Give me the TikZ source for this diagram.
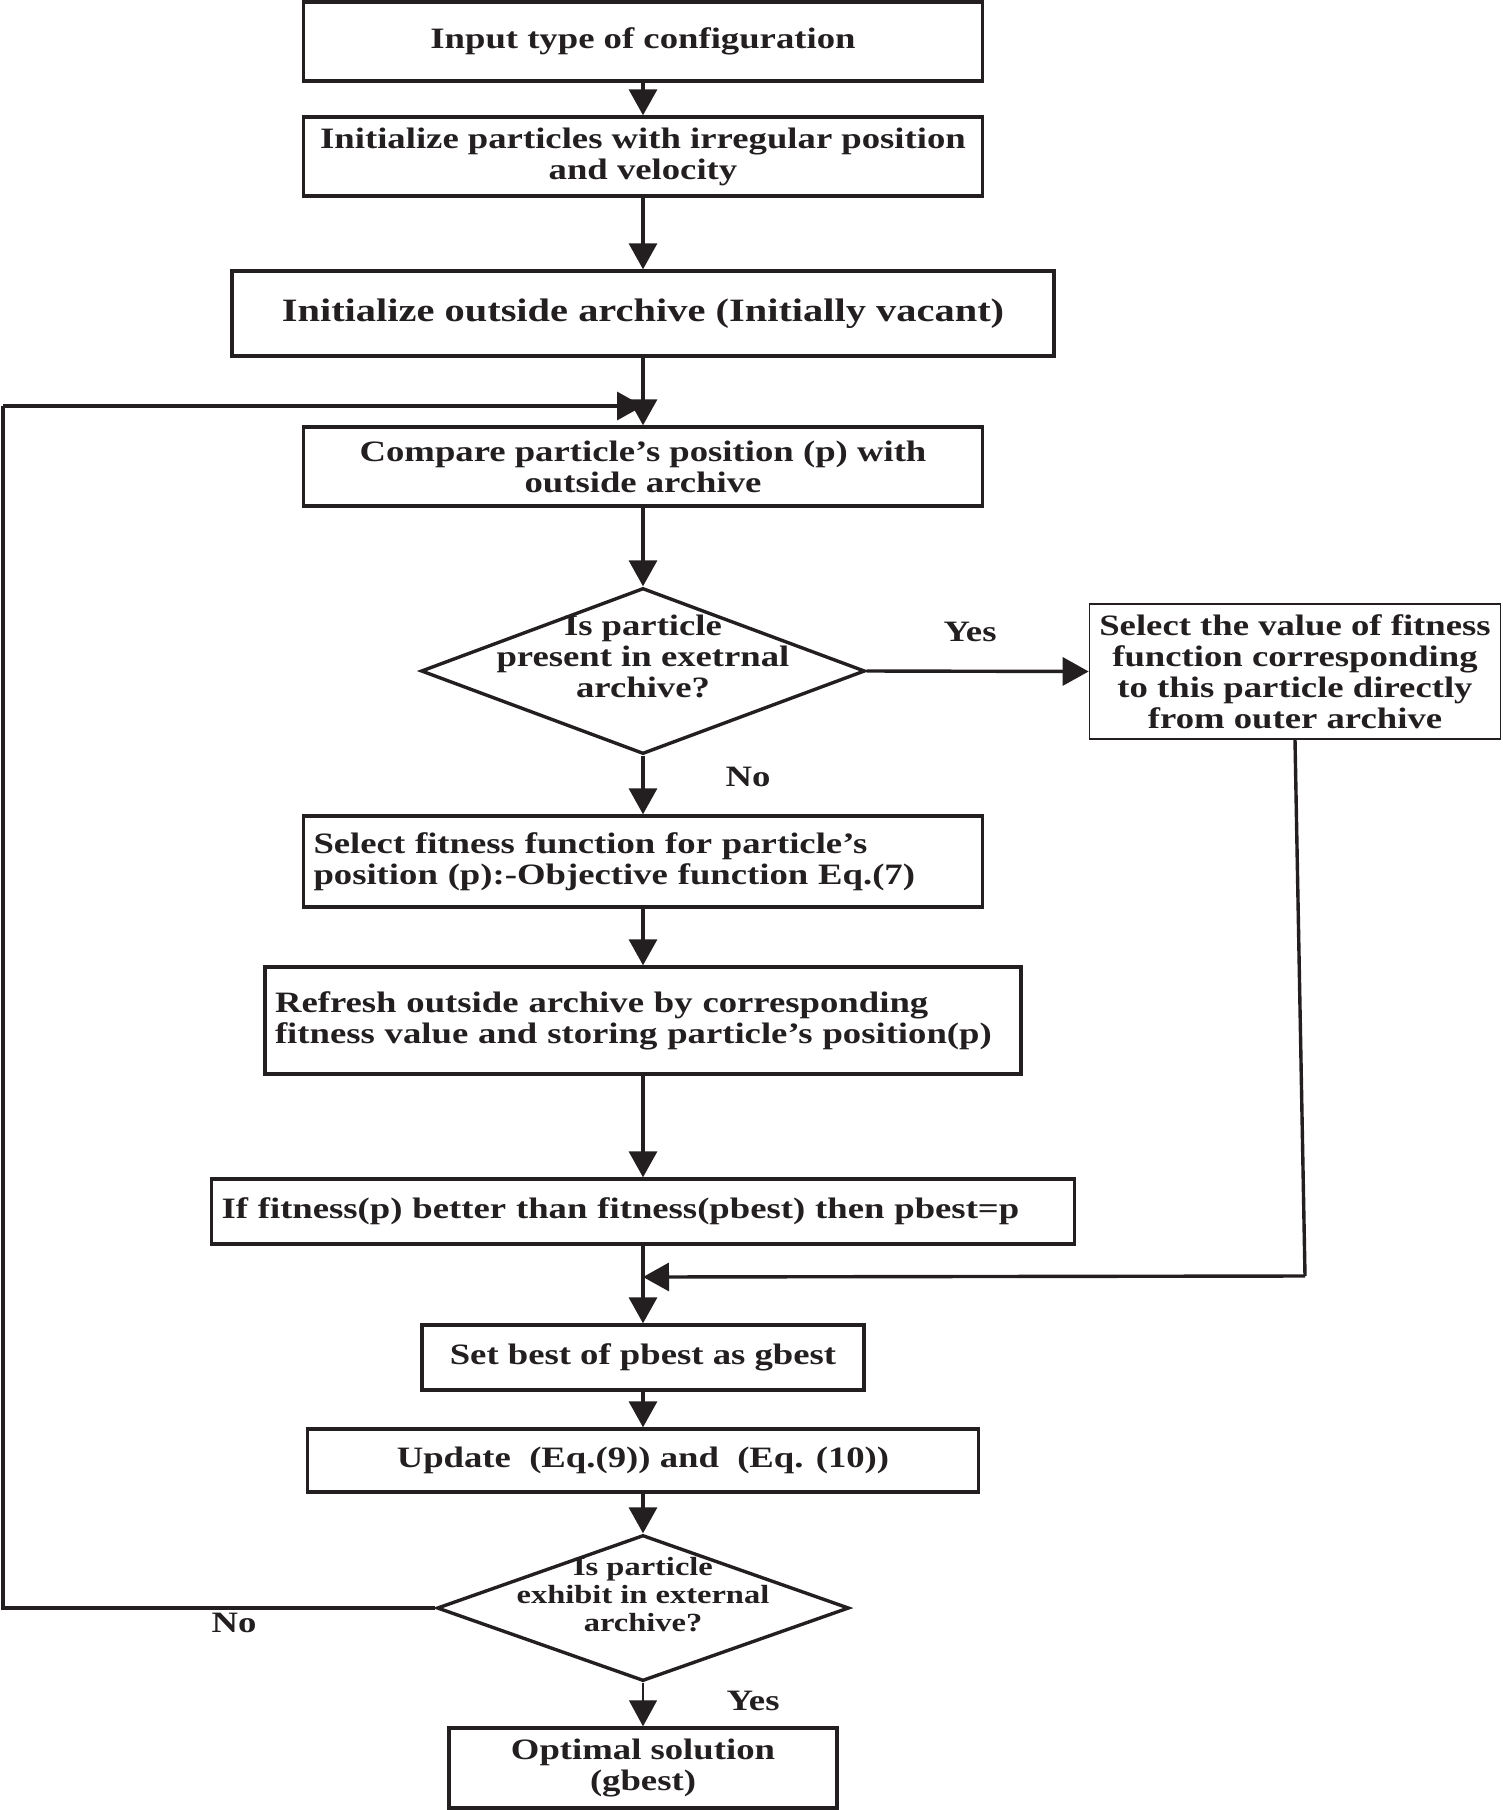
\documentclass[tikz,border=0pt]{standalone}
\usepackage{fontspec}
\setmainfont{Liberation Serif}[FakeStretch=1.24]
\usetikzlibrary{shapes.geometric,arrows.meta}
\definecolor{ink}{HTML}{231F20}
\begin{document}
\begin{tikzpicture}[x=0.5pt,y=-0.5pt,
  every node/.style={text=ink},
  txt/.style={font=\bfseries\fontsize{14.8}{15.5}\selectfont, align=center, inner sep=0pt},
  box/.style={draw=ink, line width=1.7pt, rectangle, inner sep=0pt, align=center,
     font=\bfseries\fontsize{14.8}{15.5}\selectfont},
  leftbox/.style={box, align=left, inner xsep=5pt},
  thinbox/.style={box, line width=0.85pt},
  dia/.style={draw=ink, line width=1.7pt, diamond, inner sep=0pt},
  arr/.style={draw=ink, line width=1.7pt, -{Triangle[length=13pt,width=14pt]}},
  ln/.style={draw=ink, line width=1.7pt},
  thinarr/.style={draw=ink, line width=0.6pt, -{Triangle[length=13pt,width=14pt]}}
]
\useasboundingbox (0,0) rectangle (1503,1810);

\node[box, minimum width=339.5pt, minimum height=39.5pt] (b1) at (643,41.5) {Input type of configuration};
\node[box, minimum width=339.5pt, minimum height=39.5pt] (b2) at (643,156.5) {Initialize particles with irregular position\\and velocity};
\node[box, minimum width=411pt, minimum height=42.5pt, font=\bfseries\fontsize{16.3}{17}\selectfont] (b3) at (643,313.5) {Initialize outside archive (Initially vacant)};
\node[box, minimum width=339.5pt, minimum height=39.5pt] (b4) at (643,466.5) {Compare particle’s position (p) with\\outside archive};

\node[dia, minimum width=222pt, minimum height=83pt] (d1) at (643,671) {};
\node[txt] (d1t) at (643,656) {Is particle\\present in exetrnal\\archive?};

\node[thinbox, minimum width=205.5pt, minimum height=67.5pt] (b5) at (1295,671.5) {Select the value of fitness\\function corresponding\\to this particle directly\\from outer archive};

\node[leftbox, text width=329.5pt, minimum height=45.5pt] (b6) at (643,861.5) {Select fitness function for particle’s\\position (p):-Objective function Eq.(7)};
\node[leftbox, text width=368pt, minimum height=53.5pt] (b7) at (643,1020.5) {Refresh outside archive by corresponding\\fitness value and storing particle’s position(p)};
\node[leftbox, text width=421.5pt, minimum height=32.5pt] (b8) at (643,1211.5) {If fitness(p) better than fitness(pbest) then pbest=p};

\coordinate (j1) at (643,1277);
\coordinate (c1) at (1305,1276);

\node[box, minimum width=221pt, minimum height=32.5pt] (b9) at (643,1357.5) {Set best of pbest as gbest};
\node[box, minimum width=335.5pt, minimum height=31.5pt] (b10) at (643,1460.5) {Update\ \ (Eq.(9)) and\ \ (Eq. (10))};

\node[dia, minimum width=206pt, minimum height=73pt] (d2) at (643,1608) {};
\node[txt, font=\bfseries\fontsize{13.1}{14}\selectfont] (d2t) at (643,1595) {Is particle\\exhibit in external\\archive?};

\node[box, minimum width=194pt, minimum height=40pt] (b11) at (643,1768) {Optimal solution\\(gbest)};

\coordinate (l1) at (3,1608);
\coordinate (l2) at (3,406);
\coordinate (j0) at (643,406);

\node[txt] (yes1) at (970,632) {Yes};
\node[txt] (no1) at (748,777) {No};
\node[txt] (no2) at (234,1623) {No};
\node[txt] (yes2) at (753,1701) {Yes};

\draw[arr] (b1) -- (b2);
\draw[arr] (b2) -- (b3);
\draw[arr] (b3) -- (b4);
\draw[arr] (b4) -- (d1);
\draw[arr] (d1.east) -- (b5.west);
\draw[arr] (d1) -- (b6);
\draw[arr] (b6) -- (b7);
\draw[arr] (b7) -- (b8);
\draw[arr] (b8) -- (b9);
\draw[ln] (b5.south) -- (c1);
\draw[arr] (c1) -- (j1);
\draw[arr] (b9) -- (b10);
\draw[arr] (b10) -- (d2);
\draw[thinarr] (d2) -- (b11);
\draw[ln] (d2.west) -- (l1) -- (l2);
\draw[arr] (l2) -- (j0);
\end{tikzpicture}
\end{document}
